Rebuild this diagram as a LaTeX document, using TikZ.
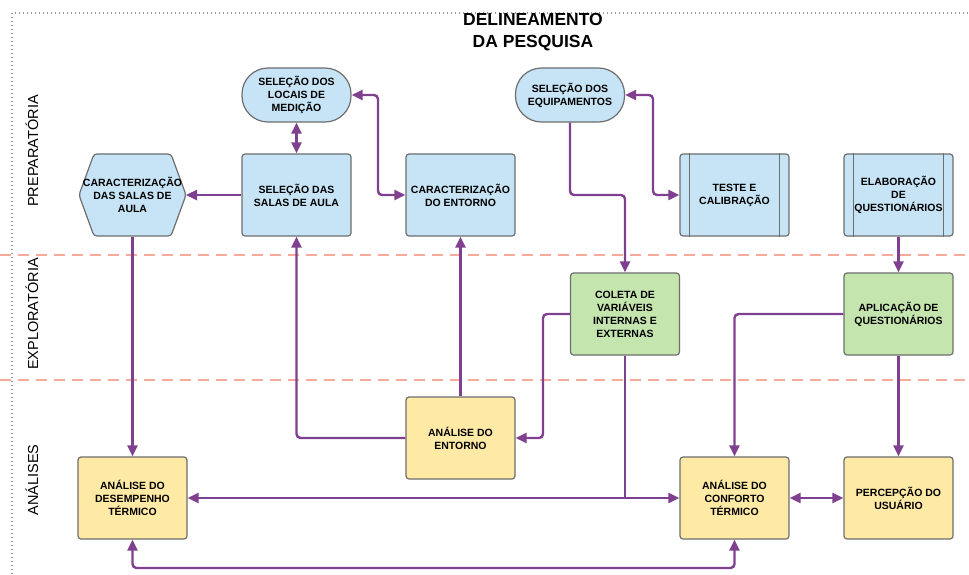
\documentclass[tikz,border=0pt]{standalone}
\usepackage{fontspec}
\setmainfont{Liberation Sans}
\usetikzlibrary{arrows.meta,calc}
\definecolor{bfill}{HTML}{C6E4F5}
\definecolor{gfill}{HTML}{C5E5AE}
\definecolor{yfill}{HTML}{FFEAA5}
\definecolor{purp}{RGB}{128,64,144}
\definecolor{bord}{HTML}{6E6E6E}
\definecolor{salmon}{HTML}{F7A99A}
\begin{document}
\begin{tikzpicture}[x=1pt,y=-1pt,
  box/.style={draw=bord, line width=1.2pt, rounded corners=3pt, minimum width=109pt, minimum height=82pt, align=center, font=\fontsize{10.5}{13}\selectfont\bfseries, inner sep=1pt},
  bbox/.style={box, fill=bfill},
  gbox/.style={box, fill=gfill},
  ybox/.style={box, fill=yfill},
  stad/.style={box, fill=bfill, minimum height=54pt, rounded corners=26pt},
  tip/.tip={Triangle[length=11pt,width=10pt]},
  conn/.style={draw=purp, line width=2.4pt, rounded corners=4pt, -tip},
  both/.style={draw=purp, line width=2.4pt, rounded corners=4pt, tip-tip},
  plain/.style={draw=purp, line width=2.4pt, rounded corners=4pt},
  lane/.style={rotate=90, font=\fontsize{14.5}{16}\selectfont},
  sep/.style={draw=salmon, line width=1.2pt, dash pattern=on 11pt off 7pt}
]
\useasboundingbox (0,0) rectangle (969,574);
\fill[white] (0,0) rectangle (969,574);
% border
\draw[bord!70, line width=1.2pt, dash pattern=on 0.8pt off 3.2pt] (12,574) -- (12,13) -- (969,13);
% separators
\draw[sep] (0,255) -- (969,255);
\draw[sep] (0,380) -- (969,380);
% title
\node[font=\fontsize{17.5}{22}\selectfont\bfseries, align=center] (title) at (533,32) {DELINEAMENTO\\DA PESQUISA};
% lanes
\node[lane] (l1) at (32,151) {PREPARATÓRIA};
\node[lane] (l2) at (32,314) {EXPLORATÓRIA};
\node[lane] (l3) at (32,480) {ANÁLISES};
% hexagon
\draw[draw=bord, fill=bfill, line width=1.2pt, rounded corners=3pt]
  (94,154) -- (171,154) -- (186,195) -- (171,236) -- (94,236) -- (79,195) -- cycle;
\node[box, draw=none, minimum width=107pt] (hex) at (132.5,195) {CARACTERIZAÇÃO\\DAS SALAS DE\\AULA};
% nodes
\node[bbox] (salas) at (296.5,195) {SELEÇÃO DAS\\SALAS DE AULA};
\node[stad] (locais) at (296.5,95) {SELEÇÃO DOS\\LOCAIS DE\\MEDIÇÃO};
\node[bbox] (entorno) at (460.5,195) {CARACTERIZAÇÃO\\DO ENTORNO};
\node[stad] (equip) at (570,95) {SELEÇÃO DOS\\EQUIPAMENTOS};
\node[bbox] (teste) at (734.5,195) {TESTE E\\CALIBRAÇÃO};
\node[bbox] (elab) at (898.5,195) {ELABORAÇÃO\\DE\\QUESTIONÁRIOS};
\foreach \n in {teste,elab}{
  \draw[bord, line width=1pt] ([xshift=10pt]\n.north west) -- ([xshift=10pt]\n.south west);
  \draw[bord, line width=1pt] ([xshift=-10pt]\n.north east) -- ([xshift=-10pt]\n.south east);
}
\node[gbox] (coleta) at (625,314) {COLETA DE\\VARIÁVEIS\\INTERNAS E\\EXTERNAS};
\node[gbox] (aplic) at (898.5,314) {APLICAÇÃO DE\\QUESTIONÁRIOS};
\node[ybox] (aent) at (460.5,438) {ANÁLISE DO\\ENTORNO};
\node[ybox] (desemp) at (132.5,498) {ANÁLISE DO\\DESEMPENHO\\TÉRMICO};
\node[ybox] (conf) at (734.5,498) {ANÁLISE DO\\CONFORTO\\TÉRMICO};
\node[ybox] (perc) at (898.5,498) {PERCEPÇÃO DO\\USUÁRIO};
% connectors
\draw[conn] (salas.west) -- (186,195);
\draw[both] (locais.south) -- (salas.north);
\draw[both] (locais.east) -- (378,95) -- (378,195) -- (entorno.west);
\draw[conn] (equip.south) -- (570,195) -- (625,195) -- (coleta.north);
\draw[both] (equip.east) -- (653,95) -- (653,195) -- (teste.west);
\draw[conn] (elab.south) -- (aplic.north);
\draw[conn] (hex.south) -- (desemp.north);
\draw[conn] (aent.north) -- (entorno.south);
\draw[conn] (aent.west) -| (salas.south);
\draw[conn] (coleta.west) -- (543,314) -- (543,438) -- (aent.east);
\coordinate (split) at (625,498);
\draw[plain] (coleta.south) -- (split);
\draw[conn] (split) -- (desemp.east);
\draw[conn] (split) -- (conf.west);
\draw[conn] (aplic.west) -| (conf.north);
\draw[conn] (aplic.south) -- (perc.north);
\draw[both] (conf.east) -- (perc.west);
\draw[both] (desemp.south) -- (132.5,568) -- (734.5,568) -- (conf.south);
\end{tikzpicture}
\end{document}
